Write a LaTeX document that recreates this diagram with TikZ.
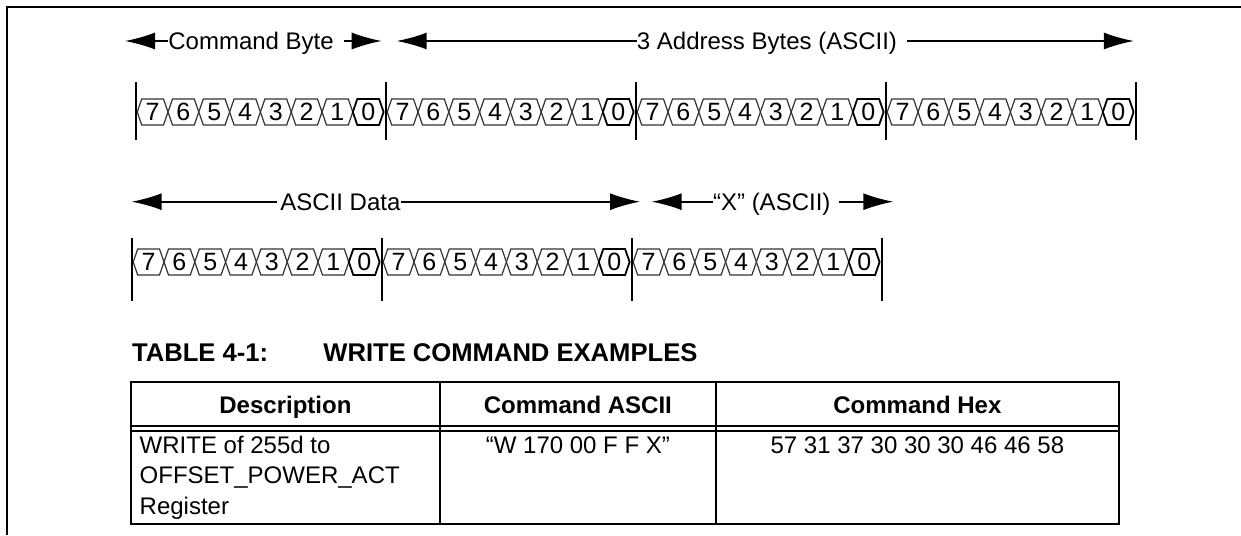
\documentclass[tikz,border=0pt]{standalone}
\usepackage{fontspec}
\setmainfont{Liberation Sans}
\usepackage{tikz}
\usetikzlibrary{
  	arrows.meta,
  	positioning
  }
\tikzstyle{span}=[-{Latex[length=15pt,width=8.5pt]}, line width=0.8pt]
\tikzstyle{lbl}=[inner sep=0pt, anchor=base west, font=\fontsize{12}{14}\selectfont]
\tikzstyle{bitcell}=[draw=black!80, line width=0.6pt, fill=white]
\tikzstyle{lastcell}=[draw=black, line width=0.9pt, fill=white]
\tikzstyle{bitno}=[inner sep=0pt, font=\fontsize{12.5}{14}\selectfont]
\tikzstyle{bytebar}=[line width=1pt]
\tikzstyle{frame}=[line width=1.1pt]
\tikzstyle{tabline}=[line width=1pt]
\tikzstyle{ttitle}=[inner sep=0pt, anchor=base west, font=\bfseries\fontsize{12.8}{15}\selectfont]
\tikzstyle{thead}=[inner sep=0pt, anchor=base, font=\bfseries\fontsize{12}{14}\selectfont]
\tikzstyle{tcell}=[inner sep=0pt, font=\fontsize{12}{14}\selectfont]

\begin{document}
\begin{tikzpicture}[x=0.5pt, y=-0.5pt]
	\useasboundingbox (0,0) rectangle (1241,535);
	\draw[frame] (6.7,535) -- (6.7,6.7) -- (1241,6.7);
	% byte labels
	\node[lbl] (cb) at (168,49.6) {Command Byte};
	\node[lbl] (ab) at (636.5,49.6) {3 Address Bytes (ASCII)};
	\node[lbl] (ad) at (280,210.3) {ASCII Data};
	\node[lbl] (xa) at (712.7,210.3) {“X” (ASCII)};
	\coordinate (cbL) at (125,41);
	\coordinate (cbR) at (381.7,41);
	\coordinate (abL) at (396.7,41);
	\coordinate (abR) at (1133.8,41);
	\coordinate (adL) at (131.7,201.7);
	\coordinate (adR) at (640,201.7);
	\coordinate (xaL) at (651.7,201.7);
	\coordinate (xaR) at (893.3,201.7);
	\draw[span] (cb.west |- cbL) to (cbL);
	\draw[span] ([xshift=5pt]cb.east |- cbR) to (cbR);
	\draw[span] (ab.west |- abL) to (abL);
	\draw[span] ([xshift=4.7pt]ab.east |- abR) to (abR);
	\draw[span] ([xshift=-1.5pt]ad.west |- adL) to (adL);
	\draw[span] (ad.east |- adR) to (adR);
	\draw[span] (xa.west |- xaL) to (xaL);
	\draw[span] ([xshift=4pt]xa.east |- xaR) to (xaR);
	% bit cells
	\foreach \bx/\yc/\nm in {135.7/112/a1, 385.7/112/a2, 635.7/112/a3, 885.7/112/a4,
	                         131.7/262/b1, 381.7/262/b2, 631.7/262/b3} {
	  \foreach \k in {0,...,7} {
	    \pgfmathsetmacro\xl{\bx+1.5+30.8*\k}
	    \pgfmathtruncatemacro\bit{7-\k}
	    \ifnum\bit=0 \def\cs{lastcell}\else\def\cs{bitcell}\fi
	    \draw[\cs] (\xl,\yc) -- ++(4.5,-13) -- ++(21.8,0) -- ++(4.5,13) -- ++(-4.5,13) -- ++(-21.8,0) -- cycle;
	    \node[bitno] (\nm c\bit) at ({\xl+15.4},\yc) {\bit};
	  }
	}
	\foreach \bx in {135.7, 385.7, 635.7, 885.7, 1135.7}
	  \draw[bytebar] (\bx,82) -- (\bx,140);
	\foreach \bx in {131.7, 381.7, 631.7, 881.7}
	  \draw[bytebar] (\bx,238) -- (\bx,301);
	% table
	\node[ttitle] (tnum) at (131.7,361.7) {TABLE 4-1:};
	\node[ttitle] (ttxt) at (323,361.7) {WRITE COMMAND EXAMPLES};
	\draw[tabline] (130.7,381.7) rectangle (1119,524.3);
	\draw[tabline] (130.7,425.7) -- (1119,425.7) (130.7,430.7) -- (1119,430.7);
	\draw[tabline] (440,381.7) -- (440,524.3) (715.7,381.7) -- (715.7,524.3);
	\node[thead] (hdesc) at (285.4,413.3) {Description};
	\node[thead] (hasc) at (577.9,413.3) {Command ASCII};
	\node[thead] (hhex) at (917.4,413.3) {Command Hex};
	\node[tcell, anchor=base west] (d1) at (139.3,453.3) {WRITE of 255d to};
	\node[tcell, anchor=base west] (d2) at (139.3,483.8) {OFFSET\_POWER\_ACT};
	\node[tcell, anchor=base west] (d3) at (139.3,514.3) {Register};
	\node[tcell, anchor=base] (asc) at (577.9,453.3) {“W 170 00 F F X”};
	\node[tcell, anchor=base] (hex) at (917.4,453.3) {57 31 37 30 30 30 46 46 58};
\end{tikzpicture}
\end{document}
